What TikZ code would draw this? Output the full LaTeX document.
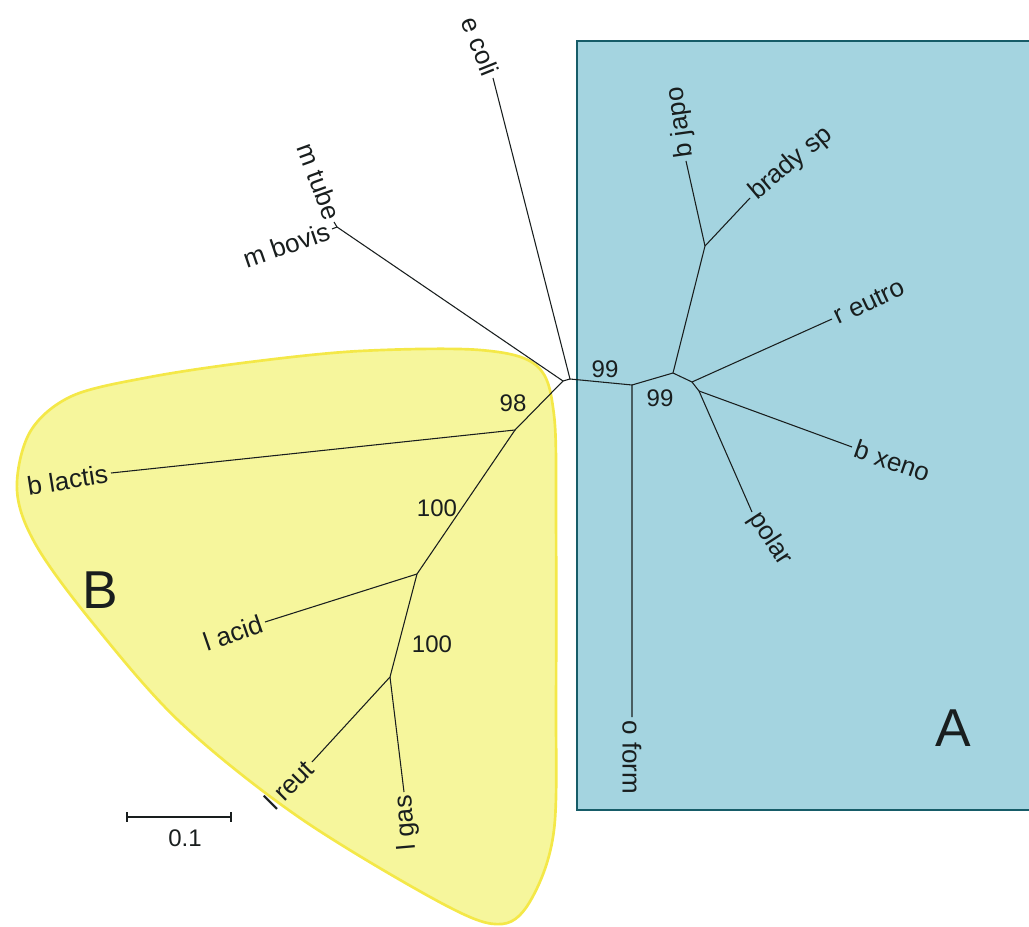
\documentclass[tikz,border=0pt]{standalone}
\usepackage{fontspec}
\setmainfont{Liberation Sans}
\usepackage{xcolor}
\usepackage{tikz}

\definecolor{cladeA}{RGB}{164,212,224}
\definecolor{cladeAline}{RGB}{22,92,104}
\definecolor{cladeB}{RGB}{246,246,156}
\definecolor{cladeBline}{RGB}{244,232,72}
\definecolor{branchcol}{RGB}{25,30,30}

\begin{document}
\begin{tikzpicture}[x=0.75pt,y=0.75pt,yscale=-1,xscale=1,
	branch/.style={draw=branchcol,line width=0.8pt},
	taxon/.style={inner sep=2.5pt,font=\fontsize{19.5}{22}\selectfont,text=branchcol},
	boot/.style={inner sep=0.75pt,font=\fontsize{18}{20}\selectfont,text=branchcol},
	clade/.style={inner sep=0pt,font=\fontsize{40}{44}\selectfont,text=branchcol}]
		\useasboundingbox (0,0) rectangle (1029,927);
		
		%Shape: Rectangle [clade A]
		\fill [cladeA] (577,41) rectangle (1035,810);
		\draw [cladeAline,line width=1.5pt] (1035,41) -- (577,41) -- (577,810) -- (1035,810);
		%Shape: Polygon Curved [clade B]
		\draw [cladeBline,fill=cladeB,line width=2pt] plot [smooth cycle,tension=0.55] coordinates {(17,490) (30,432) (72,396) (150,377) (250,362) (360,351) (480,350) (537,366) (554,415) (556,520) (556,700) (554,830) (532,898) (502,924) (445,905) (300,818) (180,722) (92,622) (36,545)};
		
		% inner nodes
		\coordinate (root) at (563,381);
		\coordinate (rootb) at (570,379);
		\coordinate (myco) at (337,227);
		\coordinate (n99a) at (632,385);
		\coordinate (n99b) at (673,373);
		\coordinate (nreu) at (692,382);
		\coordinate (nxen) at (699,391);
		\coordinate (nbra) at (705,246);
		\coordinate (n98) at (515,430);
		\coordinate (n100a) at (417,574);
		\coordinate (n100b) at (390,677);
		% tips
		\coordinate (tcoli) at (493,78);
		\coordinate (ttube) at (334,222);
		\coordinate (tbovis) at (332,229);
		\coordinate (tform) at (632,717);
		\coordinate (tjapo) at (686,161);
		\coordinate (tbrady) at (750,198);
		\coordinate (teutro) at (832,319);
		\coordinate (txeno) at (852,447);
		\coordinate (tpolar) at (752,512);
		\coordinate (tlactis) at (111,473);
		\coordinate (tacid) at (265,622);
		\coordinate (treut) at (312,762);
		\coordinate (tgas) at (404,792);
		
		%Straight Lines [branches]
		\draw [branch] (root) -- (rootb) -- (tcoli);
		\draw [branch] (root) -- (myco) -- (ttube);
		\draw [branch] (myco) -- (tbovis);
		\draw [branch] (rootb) -- (n99a) -- (tform);
		\draw [branch] (n99a) -- (n99b) -- (nbra) -- (tjapo);
		\draw [branch] (nbra) -- (tbrady);
		\draw [branch] (n99b) -- (nreu) -- (teutro);
		\draw [branch] (nreu) -- (nxen) -- (txeno);
		\draw [branch] (nxen) -- (tpolar);
		\draw [branch] (root) -- (n98) -- (tlactis);
		\draw [branch] (n98) -- (n100a) -- (tacid);
		\draw [branch] (n100a) -- (n100b) -- (treut);
		\draw [branch] (n100b) -- (tgas);
		
		% Text Node
		\node [taxon,anchor=east,rotate=-68] (lcoli) at (tcoli) {e coli};
		\node [taxon,anchor=east,rotate=-70] (ltube) at (ttube) {m tube};
		\node [taxon,anchor=east,rotate=19] (lbovis) at (tbovis) {m bovis};
		\node [taxon,anchor=west,rotate=-90] (lform) at (tform) {o form};
		\node [taxon,anchor=west,rotate=98] (ljapo) at (tjapo) {b japo};
		\node [taxon,anchor=west,rotate=40] (lbrady) at (tbrady) {brady sp};
		\node [taxon,anchor=west,rotate=25] (leutro) at (teutro) {r eutro};
		\node [taxon,anchor=west,rotate=-19] (lxeno) at (txeno) {b xeno};
		\node [taxon,anchor=west,rotate=-57] (lpolar) at (tpolar) {polar};
		\node [taxon,anchor=east,rotate=9] (llactis) at (tlactis) {b lactis};
		\node [taxon,anchor=east,rotate=19] (lacid) at (tacid) {l acid};
		\node [taxon,anchor=east,rotate=45] (lreut) at (treut) {l reut};
		\node [taxon,anchor=east,rotate=95] (lgas) at (tgas) {l gas};
		
		% Text Node [bootstrap]
		\node [boot] (b99a) at (605,369) {99};
		\node [boot] (b99b) at (660,398) {99};
		\node [boot] (b98) at (513,403) {98};
		\node [boot] (b100a) at (437,508) {100};
		\node [boot] (b100b) at (432,644) {100};
		
		% Text Node [clades]
		\node [clade] (cA) at (953,728) {A};
		\node [clade] (cB) at (100,590) {B};
		
		%Shape: Scale bar
		\coordinate (sbl) at (127,817);
		\coordinate (sbr) at (231,817);
		\draw [branch] (sbl) -- (sbr) (127,812) -- (127,822) (231,812) -- (231,822);
		\node [boot] (sblab) at (185,838) {0.1};
\end{tikzpicture}
\end{document}
